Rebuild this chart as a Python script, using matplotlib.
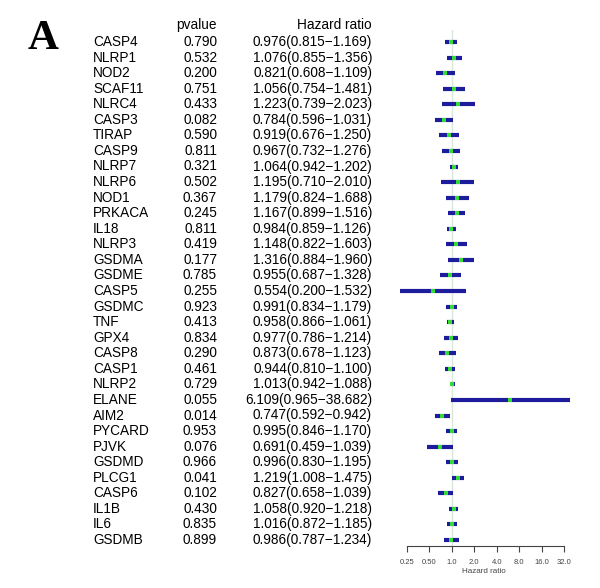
import matplotlib.pyplot as plt
import matplotlib.transforms as mtransforms
import numpy as np

genes = ['CASP4', 'NLRP1', 'NOD2', 'SCAF11', 'NLRC4', 'CASP3', 'TIRAP', 'CASP9',
         'NLRP7', 'NLRP6', 'NOD1', 'PRKACA', 'IL18', 'NLRP3', 'GSDMA', 'GSDME',
         'CASP5', 'GSDMC', 'TNF', 'GPX4', 'CASP8', 'CASP1', 'NLRP2', 'ELANE',
         'AIM2', 'PYCARD', 'PJVK', 'GSDMD', 'PLCG1', 'CASP6', 'IL1B', 'IL6', 'GSDMB']
pvalue = [0.790, 0.532, 0.200, 0.751, 0.433, 0.082, 0.590, 0.811,
          0.321, 0.502, 0.367, 0.245, 0.811, 0.419, 0.177, 0.785,
          0.255, 0.923, 0.413, 0.834, 0.290, 0.461, 0.729, 0.055,
          0.014, 0.953, 0.076, 0.966, 0.041, 0.102, 0.430, 0.835, 0.899]
hr = [0.976, 1.076, 0.821, 1.056, 1.223, 0.784, 0.919, 0.967,
      1.064, 1.195, 1.179, 1.167, 0.984, 1.148, 1.316, 0.955,
      0.554, 0.991, 0.958, 0.977, 0.873, 0.944, 1.013, 6.109,
      0.747, 0.995, 0.691, 0.996, 1.219, 0.827, 1.058, 1.016, 0.986]
low = [0.815, 0.855, 0.608, 0.754, 0.739, 0.596, 0.676, 0.732,
       0.942, 0.710, 0.824, 0.899, 0.859, 0.822, 0.884, 0.687,
       0.200, 0.834, 0.866, 0.786, 0.678, 0.810, 0.942, 0.965,
       0.592, 0.846, 0.459, 0.830, 1.008, 0.658, 0.920, 0.872, 0.787]
high = [1.169, 1.356, 1.109, 1.481, 2.023, 1.031, 1.250, 1.276,
        1.202, 2.010, 1.688, 1.516, 1.126, 1.603, 1.960, 1.328,
        1.532, 1.179, 1.061, 1.214, 1.123, 1.100, 1.088, 38.682,
        0.942, 1.170, 1.039, 1.195, 1.475, 1.039, 1.218, 1.185, 1.234]
xticks = [0.25, 0.5, 1, 2, 4, 8, 16, 32]
xticklabels = ['0.25', '0.50', '1.0', '2.0', '4.0', '8.0', '16.0', '32.0']

plt.rcParams['font.family'] = ['Liberation Sans', 'DejaVu Sans']

W, H = 600, 588
fig = plt.figure(figsize=(6, 5.88), dpi=100)

# forest panel: x from 0.18 to 40 on a log2 scale, one row per gene
x0, x1 = 396.4, 571.2
top_px, bot_px = 30, 546
ax = fig.add_axes([x0 / W, 1 - bot_px / H, (x1 - x0) / W, (bot_px - top_px) / H])
ax.set_xscale('log', base=2)
ax.set_xlim(0.18, 40)
step = (540 - 42) / 32
ax.set_ylim(-32 - (bot_px - 540) / step, (42 - top_px) / step)

y = -np.arange(len(genes))
ax.axvline(1, color='#d8e8d8', lw=1, zorder=1)
ax.hlines(y, low, high, color='#1c1c9c', lw=3, zorder=2)
ax.scatter(hr, y, color='#33dd33', s=6, marker='s', lw=0, zorder=3)

for s in ['top', 'right', 'left']:
    ax.spines[s].set_visible(False)
ax.spines['bottom'].set_bounds(0.25, 32)
ax.spines['bottom'].set_color('#444444')
ax.set_yticks([])
ax.set_xticks(xticks)
ax.set_xticklabels(xticklabels)
ax.minorticks_off()
ax.tick_params(axis='x', labelsize=5.5, length=4, color='#444444', labelcolor='#444444', pad=5)
ax.set_xlabel('Hazard ratio', fontsize=5.8, color='#444444', labelpad=2)

# text columns: figure x, data y
blend = mtransforms.blended_transform_factory(fig.transFigure, ax.transData)
fs = 9.8
for i, g in enumerate(genes):
    ax.text(93 / W, y[i], g, transform=blend, fontsize=fs, ha='left', va='center', clip_on=False)
    ax.text(217 / W, y[i], f'{pvalue[i]:.3f}', transform=blend, fontsize=fs,
            ha='right', va='center', clip_on=False)
    ax.text(372 / W, y[i], f'{hr[i]:.3f}({low[i]:.3f}\u2212{high[i]:.3f})', transform=blend,
            fontsize=fs, ha='right', va='center', clip_on=False)

fig.text(217 / W, 1 - 25 / H, 'pvalue', fontsize=fs, ha='right', va='center')
fig.text(372 / W, 1 - 25 / H, 'Hazard ratio', fontsize=fs, ha='right', va='center')
fig.text(28 / W, 1 - 39 / H, 'A', fontsize=31, fontweight='bold',
         family=['Liberation Serif', 'DejaVu Serif'], ha='left', va='center')

fig.savefig('out.png', dpi=100)
